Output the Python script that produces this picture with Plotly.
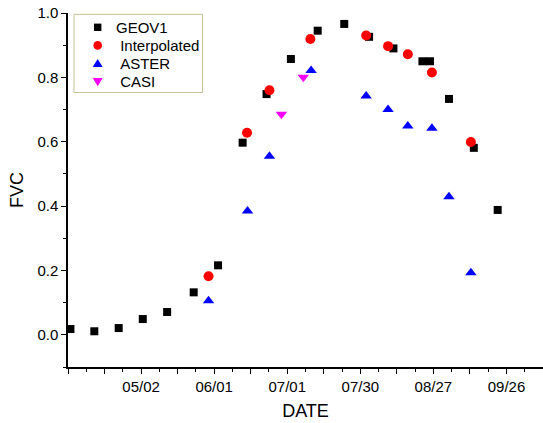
import plotly.graph_objects as go

# x values are day positions on the (equally spaced) date axis
geov1_x = [91.0, 100.8, 110.8, 120.7, 130.7, 141.6, 151.6, 161.7, 171.5, 181.5, 192.5, 203.4, 213.6, 223.6, 235.5, 238.6, 246.4, 256.6, 266.4]
geov1_y = [0.018, 0.011, 0.021, 0.049, 0.071, 0.132, 0.216, 0.597, 0.748, 0.857, 0.945, 0.966, 0.926, 0.890, 0.850, 0.850, 0.733, 0.581, 0.388]

interp_x = [147.7, 163.5, 172.7, 189.5, 212.4, 221.4, 229.5, 239.4, 255.4]
interp_y = [0.182, 0.628, 0.760, 0.919, 0.930, 0.897, 0.872, 0.815, 0.599]

aster_x = [147.7, 163.7, 172.7, 189.8, 212.4, 221.4, 229.5, 239.4, 246.4, 255.4]
aster_y = [0.106, 0.385, 0.555, 0.821, 0.742, 0.700, 0.649, 0.642, 0.429, 0.193]

casi_x = [177.6, 186.6]
casi_y = [0.685, 0.800]

series_names = ["GEOV1", " Interpolated", " ASTER", " CASI"]
series_colors = ["black", "#ff0000", "#0000ff", "#ff00ff"]
series_symbols = ["square", "circle", "triangle-up", "triangle-down"]

tick_labels = ["05/02", "06/01", "07/01", "07/30", "08/27", "09/26"]
first_label_pos = 120
label_step = 30
x_start, x_end = 90, 285

label_pos = [first_label_pos + label_step * i for i in range(len(tick_labels))]
major_vals = [x_start + 15 * i for i in range(int((x_end - x_start) / 15) + 1)]
major_text = []
for v in major_vals:
    if v in label_pos:
        major_text.append(tick_labels[label_pos.index(v)])
    else:
        major_text.append("")

FONT = "Liberation Sans, Arial, sans-serif"
W, H = 543, 423
ML, MR, MT, MB = 68, 0, 13, 56
PW, PH = W - ML - MR, H - MT - MB


def px2paper(px, py):
    return (px - ML) / PW, (H - MB - py) / PH


fig = go.Figure()
sx = [geov1_x, interp_x, aster_x, casi_x]
sy = [geov1_y, interp_y, aster_y, casi_y]
sizes = [8, 10, 10, 10]
for xs, ys, nm, col, sym, sz in zip(sx, sy, series_names, series_colors, series_symbols, sizes):
    fig.add_trace(go.Scatter(x=xs, y=ys, mode="markers", name=nm.strip(), showlegend=False,
                             marker=dict(symbol=sym, size=sz, color=col)))

# ---- hand-built legend (box, key glyphs, labels) ----
shapes = []
annotations = []
bx0, by0 = px2paper(74, 92.5)
bx1, by1 = px2paper(202.5, 14.3)
shapes.append(dict(type="rect", xref="paper", yref="paper", x0=bx0, y0=by0, x1=bx1, y1=by1,
                   line=dict(color="#c4c496", width=1), fillcolor="white", layer="above"))
key_x = 97.7
row_y0 = 27.3
row_h = 18.1
glyph_paths = {
    "square": "M -3.7,-3.7 L 3.7,-3.7 L 3.7,3.7 L -3.7,3.7 Z",
    "triangle-up": "M -5,-3.6 L 5,-3.6 L 0,4.6 Z",
    "triangle-down": "M -5,3.6 L 5,3.6 L 0,-4.6 Z",
}
for i, (nm, col, sym) in enumerate(zip(series_names, series_colors, series_symbols)):
    ax, ay = px2paper(key_x, row_y0 + i * row_h)
    if sym == "circle":
        shapes.append(dict(type="circle", xref="paper", yref="paper", xsizemode="pixel", ysizemode="pixel",
                           xanchor=ax, yanchor=ay, x0=-4.3, x1=4.3, y0=-4.3, y1=4.3,
                           fillcolor=col, line=dict(width=0), layer="above"))
    else:
        shapes.append(dict(type="path", xref="paper", yref="paper", xsizemode="pixel", ysizemode="pixel",
                           xanchor=ax, yanchor=ay, path=glyph_paths[sym],
                           fillcolor=col, line=dict(width=0), layer="above"))
    tx, ty = px2paper(113.5, row_y0 + i * row_h)
    annotations.append(dict(x=tx, y=ty, xref="paper", yref="paper", text=nm.replace(" ", "&nbsp;"),
                            showarrow=False, xanchor="left", yanchor="middle",
                            font=dict(size=15, family=FONT, color="black")))

fig.update_layout(
    width=W, height=H,
    margin=dict(l=ML, r=MR, t=MT, b=MB),
    plot_bgcolor="white", paper_bgcolor="white",
    font=dict(family=FONT, size=15, color="black"),
    showlegend=False,
    shapes=shapes,
    annotations=annotations,
    xaxis=dict(range=[x_start, x_end], tickmode="array", tickvals=major_vals, ticktext=major_text,
               ticks="outside", ticklen=5, tickwidth=1, tickcolor="black",
               showline=True, linecolor="black", linewidth=1.5, showgrid=False, zeroline=False,
               minor=dict(dtick=7.5, tick0=x_start, ticks="outside", ticklen=3, tickcolor="black"),
               title=dict(text="DATE", font=dict(size=18), standoff=11),
               tickfont=dict(size=15)),
    yaxis=dict(range=[-0.1, 1.0], tick0=0, dtick=0.2, tickformat=".1f",
               ticks="outside", ticklen=5, tickwidth=1, tickcolor="black",
               showline=True, linecolor="black", linewidth=1.5, showgrid=False, zeroline=False,
               minor=dict(dtick=0.1, tick0=0, ticks="outside", ticklen=3, tickcolor="black"),
               title=dict(text="FVC", font=dict(size=18), standoff=9),
               tickfont=dict(size=15)),
)

fig.write_html("out.html")
